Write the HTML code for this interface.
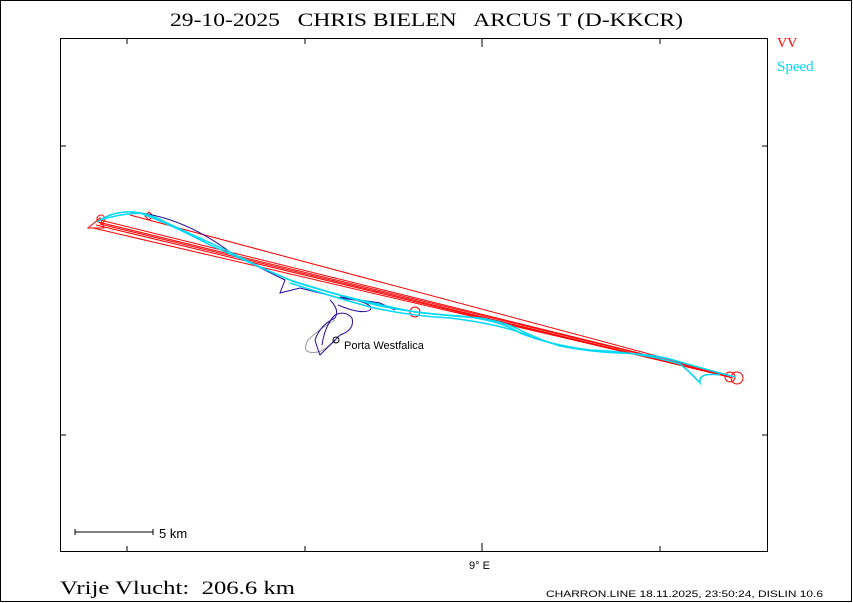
<!DOCTYPE html>
<html><head><meta charset="utf-8"><style>
html,body{margin:0;padding:0;background:#fff}
svg{display:block}
text{white-space:pre}
</style></head><body>
<svg width="853" height="603" viewBox="0 0 853 603" xmlns="http://www.w3.org/2000/svg" xml:space="preserve">
<rect x="0.5" y="0.5" width="851" height="601" fill="#fff" stroke="#000" stroke-width="1"/>
<text x="170" y="26" font-family="Liberation Serif, serif" font-size="19" fill="#000" textLength="513" lengthAdjust="spacingAndGlyphs">29-10-2025   CHRIS BIELEN   ARCUS T (D-KKCR)</text>
<rect x="60.5" y="38.5" width="707" height="513" fill="none" stroke="#000" stroke-width="1"/>
<g stroke="#000" stroke-width="1">
<line x1="127" y1="39" x2="127" y2="44"/><line x1="305" y1="39" x2="305" y2="44"/><line x1="482" y1="39" x2="482" y2="47"/><line x1="660" y1="39" x2="660" y2="44"/>
<line x1="127" y1="551" x2="127" y2="546"/><line x1="305" y1="551" x2="305" y2="546"/><line x1="482" y1="551" x2="482" y2="543"/><line x1="660" y1="551" x2="660" y2="546"/>
<line x1="61" y1="146" x2="66" y2="146"/><line x1="61" y1="435" x2="66" y2="435"/>
<line x1="767" y1="146" x2="762" y2="146"/><line x1="767" y1="435" x2="762" y2="435"/>
<line x1="75" y1="532" x2="153" y2="532"/><line x1="75" y1="529" x2="75" y2="535"/><line x1="153" y1="529" x2="153" y2="535"/>
</g>
<text x="159" y="538" font-family="Liberation Sans, sans-serif" font-size="13" fill="#000">5 km</text>
<text x="469" y="569" font-family="Liberation Sans, sans-serif" font-size="11" fill="#000">9° E</text>
<text x="60" y="594" font-family="Liberation Serif, serif" font-size="19" fill="#000" textLength="235" lengthAdjust="spacingAndGlyphs">Vrije Vlucht:  206.6 km</text>
<text x="546" y="597" font-family="Liberation Sans, sans-serif" font-size="9" fill="#000" textLength="277" lengthAdjust="spacingAndGlyphs">CHARRON.LINE 18.11.2025, 23:50:24, DISLIN 10.6</text>
<text x="777" y="47" font-family="Liberation Serif, serif" font-size="14" fill="#f00">VV</text>
<text x="777" y="71" font-family="Liberation Serif, serif" font-size="15" fill="#00d8f8">Speed</text>
<g stroke="#f00" stroke-width="1" fill="none">
<line x1="100" y1="220" x2="732" y2="376"/>
<line x1="98" y1="222" x2="735" y2="377"/>
<line x1="96" y1="225" x2="733" y2="378"/>
<line x1="100" y1="224" x2="730" y2="377"/>
<line x1="93" y1="228" x2="728" y2="376"/>
<line x1="130" y1="215" x2="728" y2="375"/>
<polygon points="88,228 100,218 104,228"/>
<circle cx="415" cy="312" r="5"/>
<circle cx="730" cy="377" r="5"/><circle cx="737" cy="378" r="6"/>
<circle cx="101" cy="219" r="4"/><polygon points="145,216 149,212 153,216 149,220"/>
</g>
<path d="M335,320 Q318,330 308,340 Q300,355 318,352 Q325,350 336,340" stroke="#999" fill="none" stroke-width="1"/>
<g stroke="#2a0a9a" stroke-width="1" fill="none">
<path d="M97,222 Q110,212 130,212 Q180,215 230,252 Q260,268 285,280 L280,293 L300,288 L340,298 L370,302 L380,306"/>
<path d="M330,300 Q340,310 335,318 Q320,325 315,340 Q318,350 320,355 Q330,345 340,335 Q355,330 352,318 Q345,310 335,315 Q325,325 322,345"/>
<path d="M338,305 Q362,315 370,310 Q375,305 355,300"/>
<path d="M340,297 L380,303 L395,310"/>
</g>
<g stroke="#00d8f8" stroke-width="1.5" fill="none">
<path d="M97,222 Q110,213 125,212 Q145,211 165,222 Q200,238 230,252 Q265,270 295,282 Q330,293 360,300 Q385,306 415,312 Q450,316 480,318 Q505,322 520,330 Q540,340 560,346 Q590,352 620,353 Q650,354 670,359 Q700,368 735,377"/>
<path d="M100,220 Q120,214 140,213 Q170,224 210,245 Q250,263 290,280 Q340,296 380,306 Q420,314 460,316 Q500,320 520,333 Q550,345 590,350 Q640,352 680,364 Q690,372 700,383 Q698,372 720,375"/>
<path d="M290,283 Q330,296 370,307 Q410,316 450,318 Q500,324 530,336"/>
</g>
<circle cx="336" cy="340" r="3" stroke="#000" fill="none"/>
<text x="344" y="349" font-family="Liberation Sans, sans-serif" font-size="11" fill="#000">Porta Westfalica</text>
</svg>
</body></html>
